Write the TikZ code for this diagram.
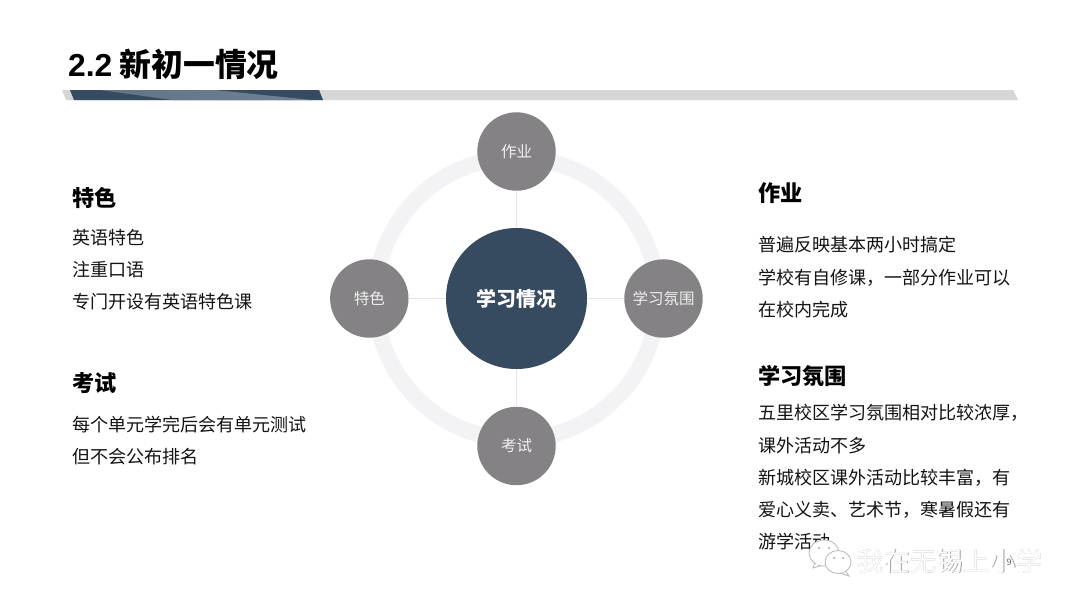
\documentclass[tikz,border=0pt]{standalone}
\usepackage{fontspec}
\setmainfont{Noto Sans CJK SC}
\newfontfamily\latinbold{Liberation Sans}[BoldFont={Liberation Sans Bold}]
\usetikzlibrary{calc}
\definecolor{navy}{HTML}{364A60}
\definecolor{barlight}{HTML}{6F8194}
\definecolor{bargray}{HTML}{D6D6D6}
\definecolor{ringc}{HTML}{F3F2F4}
\definecolor{spokec}{HTML}{E5E5E9}
\definecolor{satc}{HTML}{848284}
\tikzset{
  x=1pt,y=-1pt,
  body/.style={anchor=west,inner sep=0pt,font=\fontsize{18.05}{18}\selectfont,text=black!92},
  head/.style={anchor=west,inner sep=0pt,font=\fontsize{22.2}{22}\selectfont\bfseries,text=black},
  sat/.style={circle,fill=satc,minimum size=78.4pt,inner sep=0pt,text=white!94!black,font=\fontsize{15.5}{16}\selectfont},
  hub/.style={circle,fill=navy,minimum size=141pt,inner sep=0pt,text=white,font=\fontsize{20}{20}\selectfont\bfseries},
  spoke/.style={draw=spokec,line width=0.9pt},
  wmark/.style={anchor=west,inner sep=0pt,font=\fontsize{26.5}{27}\selectfont},
  bubble/.style={draw=black!28,fill=white,line width=0.8pt},
}
\begin{document}
\begin{tikzpicture}
\useasboundingbox (0,0) rectangle (1080,608);
\fill[white] (0,0) rectangle (1080,608);
% title
\node[anchor=west,inner sep=0pt,font=\fontsize{31.8}{32}\selectfont\bfseries] (title) at (68,64) {{\latinbold 2.2} 新初一情况};
% bar
\fill[bargray] (62,90) -- (1013,90) -- (1018,100) -- (66,100) -- cycle;
\fill[navy] (70,90) -- (319,90) -- (323,100) -- (74,100) -- cycle;
\shade[left color=barlight!75!navy,right color=barlight] (100,90) -- (215,90) -- (312,100) -- (172,100) -- cycle;
% ring
\draw[ringc,line width=16pt] (516.5,298.5) circle[radius=141];
% hub and satellites
\node[hub] (hubn) at (516.5,298.5) {学习情况};
\node[sat] (top) at (516.5,151.5) {作业};
\node[sat] (bot) at (516.5,446) {考试};
\node[sat] (lef) at (369.3,298.5) {特色};
\node[sat] (rig) at (663.5,298.5) {学习氛围};
\draw[spoke] (hubn) -- (top);
\draw[spoke] (hubn) -- (bot);
\draw[spoke] (hubn) -- (lef);
\draw[spoke] (hubn) -- (rig);
% left column
\node[head] (lh1) at (72,197.5) {特色};
\node[body] (l1) at (72,237.7) {英语特色};
\node[body] (l2) at (72,269.7) {注重口语};
\node[body] (l3) at (72,301.7) {专门开设有英语特色课};
\node[head] (lh2) at (72,383.5) {考试};
\node[body] (l4) at (72,424.7) {每个单元学完后会有单元测试};
\node[body] (l5) at (72,456.7) {但不会公布排名};
% right column
\node[head] (rh1) at (758,193) {作业};
\node[body] (r1) at (758,245) {普遍反映基本两小时搞定};
\node[body] (r2) at (758,277.5) {学校有自修课，一部分作业可以};
\node[body] (r3) at (758,310) {在校内完成};
\node[head] (rh2) at (758,376) {学习氛围};
\node[body] (r4) at (758,413) {五里校区学习氛围相对比较浓厚，};
\node[body] (r5) at (758,445.5) {课外活动不多};
\node[body] (r6) at (758,477.5) {新城校区课外活动比较丰富，有};
\node[body] (r7) at (758,510) {爱心义卖、艺术节，寒暑假还有};
\node[body] (r8) at (758,542) {游学活动};
% watermark icon
\begin{scope}
\draw[bubble] (816,559) -- (813,568) -- (823,565);
\draw[bubble] (824,553) ellipse[x radius=15,y radius=13];
\fill[white] (816,561) -- (816,565) -- (824,563) -- cycle;
\fill[black!40] (819,548) circle[radius=1] (829,548) circle[radius=1];
\draw[bubble] (845,570) -- (849,576) -- (840,573);
\draw[bubble] (838,562) ellipse[x radius=13,y radius=11.5];
\fill[white] (842,570) -- (845,572) -- (840,572.5) -- cycle;
\fill[black!40] (834,558) circle[radius=1] (843,558) circle[radius=1];
\end{scope}
% watermark text
\node[wmark,text=black!38] (wms) at (857.7,561.8) {我在无锡上小学};
\node[wmark,text=white] (wm) at (857,561) {我在无锡上小学};
\node[inner sep=0pt,font=\fontsize{9}{9}\selectfont,text=black!60] (pg) at (1009,562) {9};
\end{tikzpicture}
\end{document}
